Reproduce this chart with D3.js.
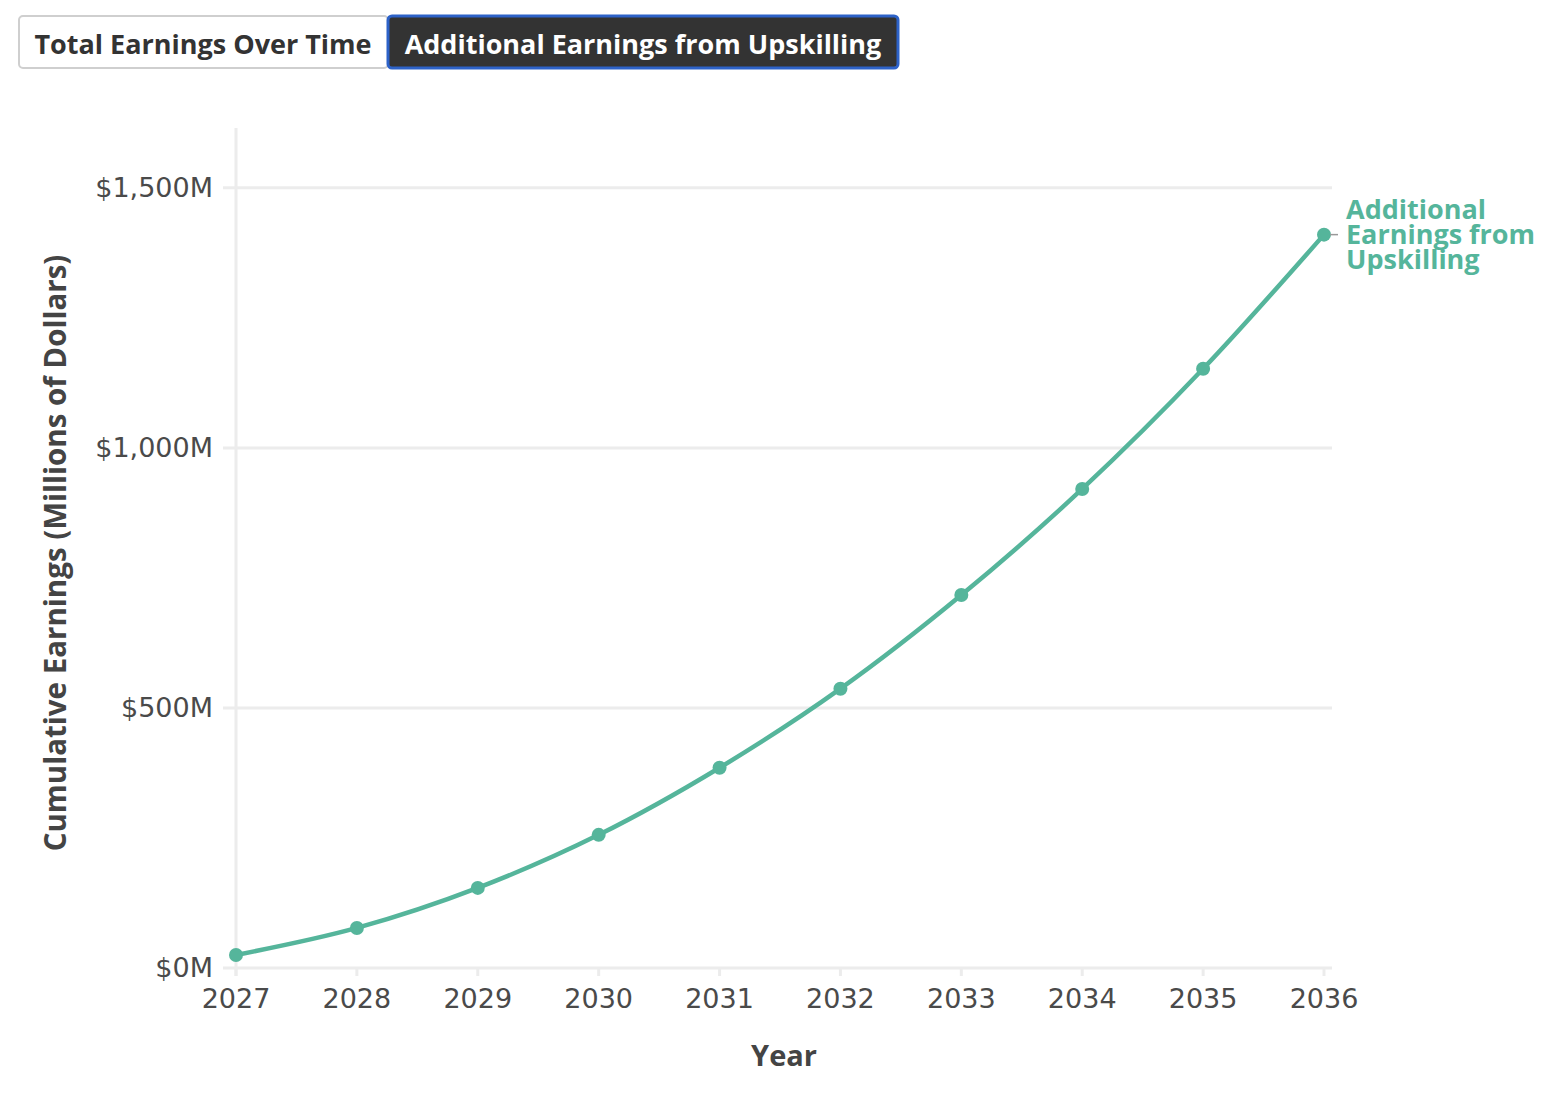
<!DOCTYPE html>
<html>
<head>
<meta charset="utf-8">
<script src="https://cdn.jsdelivr.net/npm/d3@7"></script>
<style>
  html, body { margin: 0; padding: 0; background: #fff; }
  svg { display: block; }
</style>
</head>
<body>
<svg id="chart" width="1568" height="1098"></svg>
<script>
const years = [2027, 2028, 2029, 2030, 2031, 2032, 2033, 2034, 2035, 2036];
const additionalEarnings = [25, 77, 154, 256, 385, 537, 717, 921, 1152, 1410];
const yTicks = [0, 500, 1000, 1500];
const buttonLabels = ["Total Earnings Over Time", "Additional Earnings from Upskilling"];
const seriesLabelLines = ["Additional", "Earnings from", "Upskilling"];

const svg = d3.select("#chart");
const boldFont = "'Open Sans', Lato, sans-serif";
const tickFont = "'DejaVu Sans', sans-serif";
const green = "#55b59b";
const textCol = "#444";

// Buttons
const btn = svg.append("g");
btn.append("rect").attr("x", 19).attr("y", 16).attr("width", 369).attr("height", 52)
  .attr("rx", 4).attr("fill", "#fff").attr("stroke", "#cfcfcf").attr("stroke-width", 2);
btn.append("rect").attr("x", 388).attr("y", 16).attr("width", 510).attr("height", 52)
  .attr("rx", 4).attr("fill", "#333").attr("stroke", "#2d62c8").attr("stroke-width", 3);
btn.append("text").attr("x", 203).attr("y", 43).attr("text-anchor", "middle")
  .attr("dominant-baseline", "central").attr("font-family", boldFont).attr("font-weight", 700)
  .attr("font-size", 27).attr("fill", "#333").text(buttonLabels[0]);
btn.append("text").attr("x", 643).attr("y", 43).attr("text-anchor", "middle")
  .attr("dominant-baseline", "central").attr("font-family", boldFont).attr("font-weight", 700)
  .attr("font-size", 27).attr("fill", "#fff").text(buttonLabels[1]);

// Scales
const x = d3.scaleLinear().domain([2027, 2036]).range([236, 1324]);
const y = d3.scaleLinear().domain([0, 1615]).range([968, 128]);

// Gridlines
const grid = svg.append("g");
grid.selectAll("line.h").data(yTicks).join("line").attr("class", "h")
  .attr("x1", 223).attr("x2", 1332)
  .attr("y1", d => y(d)).attr("y2", d => y(d))
  .attr("stroke", "#ececec").attr("stroke-width", 3);
grid.append("line").attr("x1", x(2027)).attr("x2", x(2027)).attr("y1", 128).attr("y2", 976)
  .attr("stroke", "#ececec").attr("stroke-width", 3);
grid.selectAll("line.xt").data(years).join("line").attr("class", "xt")
  .attr("x1", d => x(d)).attr("x2", d => x(d)).attr("y1", 968).attr("y2", 976)
  .attr("stroke", "#ececec").attr("stroke-width", 3);

// Y tick labels
svg.append("g").selectAll("text").data(yTicks).join("text")
  .attr("x", 213).attr("y", d => y(d)).attr("dy", "0.35em")
  .attr("text-anchor", "end").attr("font-family", tickFont).attr("font-size", 27)
  .attr("fill", "#4a4a4a").text(d => "$" + d3.format(",")(d) + "M");

// X tick labels
svg.append("g").selectAll("text").data(years).join("text")
  .attr("x", d => x(d)).attr("y", 1008)
  .attr("text-anchor", "middle").attr("font-family", tickFont).attr("font-size", 27)
  .attr("fill", "#4a4a4a").text(d => d);

// Axis titles
svg.append("text").attr("transform", "translate(66,553) rotate(-90)")
  .attr("text-anchor", "middle").attr("font-family", boldFont).attr("font-weight", 700)
  .attr("font-size", 29.5).attr("fill", textCol).text("Cumulative Earnings (Millions of Dollars)");
svg.append("text").attr("x", 784).attr("y", 1066)
  .attr("text-anchor", "middle").attr("font-family", boldFont).attr("font-weight", 700)
  .attr("font-size", 29).attr("fill", textCol).text("Year");

// Line
const data = years.map((yr, i) => ({ yr, v: additionalEarnings[i] }));
const line = d3.line().x(d => x(d.yr)).y(d => y(d.v)).curve(d3.curveMonotoneX);
svg.append("path").datum(data).attr("d", line).attr("fill", "none")
  .attr("stroke", green).attr("stroke-width", 4.5);
svg.append("g").selectAll("circle").data(data).join("circle")
  .attr("cx", d => x(d.yr)).attr("cy", d => y(d.v)).attr("r", 7).attr("fill", green);

// Series label
const last = data[data.length - 1];
svg.append("line").attr("x1", x(last.yr) + 6).attr("x2", x(last.yr) + 14)
  .attr("y1", y(last.v)).attr("y2", y(last.v)).attr("stroke", "#999").attr("stroke-width", 1.5);
const lbl = svg.append("text").attr("x", 1346).attr("y", 219)
  .attr("font-family", boldFont).attr("font-weight", 700).attr("font-size", 27).attr("fill", green);
lbl.selectAll("tspan").data(seriesLabelLines).join("tspan")
  .attr("x", 1346).attr("dy", (d, i) => i === 0 ? 0 : 25).text(d => d);
</script>
</body>
</html>
